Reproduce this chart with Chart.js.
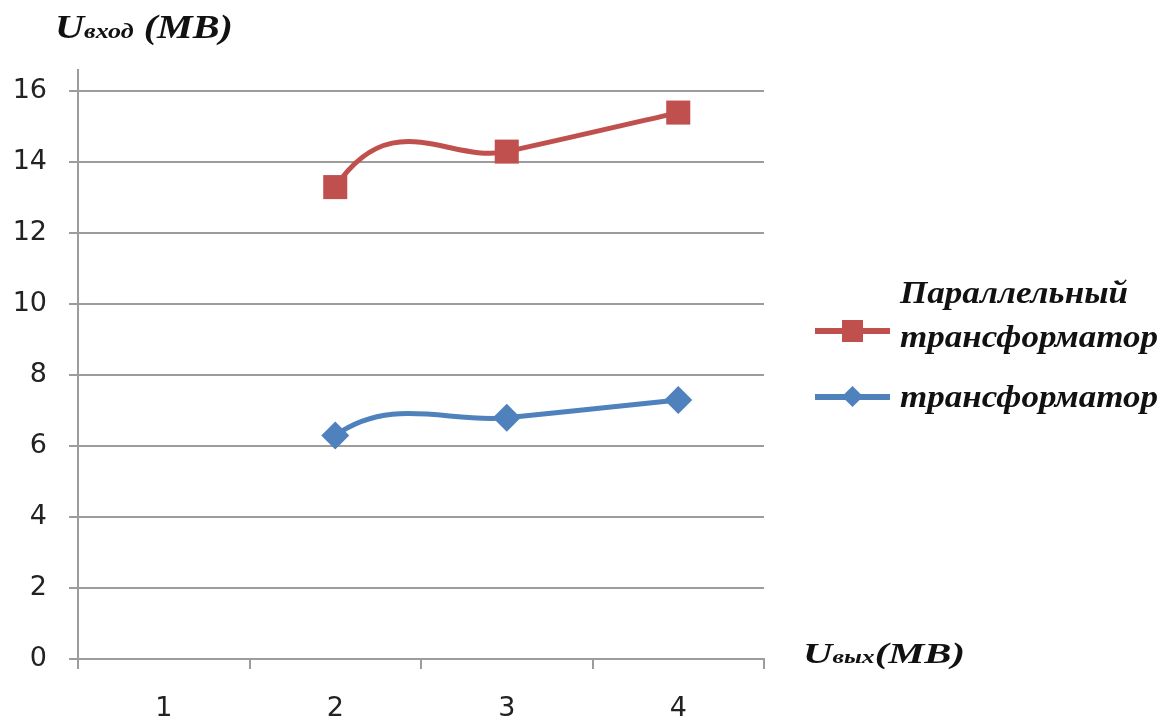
<!DOCTYPE html>
<html lang="ru">
<head>
<meta charset="utf-8">
<title>Uвход (МВ) / Uвых (МВ)</title>
<script src="https://cdn.jsdelivr.net/npm/chart.js@4.4.1/dist/chart.umd.min.js"></script>
<style>
  html, body { margin: 0; padding: 0; background: #fff; }
  #wrap { position: relative; width: 1171px; height: 722px; overflow: hidden; }
  #chart { position: absolute; left: 0; top: 0; }
  .lbl {
    position: absolute; white-space: nowrap; transform-origin: 0 0;
    font-family: "Liberation Serif", "DejaVu Serif", serif;
    font-weight: bold; font-style: italic; color: #111; line-height: 1;
  }
  .sym { position: absolute; }
</style>
</head>
<body>
<div id="wrap">
  <canvas id="chart" width="1171" height="722"></canvas>
</div>
<script>
// Output voltage steps (x categories) and input voltage for each circuit
const categories = ['1', '2', '3', '4'];
const parallelTransformer = [null, 13.3, 14.3, 15.4];
const transformer = [null, 6.3, 6.8, 7.3];
const seriesNames = [['Параллельный', 'трансформатор'], ['трансформатор']];
const yTickValues = [0, 2, 4, 6, 8, 10, 12, 14, 16];

const RED = '#C0504D';
const BLUE = '#4F81BD';
const GRID = '#9c9c9c';

// Smoothed line: Catmull-Rom style tangents (1/6 of neighbour chord); an empty
// neighbouring cell counts as zero when shaping the curve, as office charts do.
const smoothBlankAsZero = {
  id: 'smoothBlankAsZero',
  beforeDatasetDraw(chart, args) {
    const meta = args.meta;
    const pts = meta.data;
    const zeroY = chart.scales.y.getPixelForValue(0);
    const at = (i) => {
      if (i < 0 || i >= pts.length) return null;
      const p = pts[i];
      return p.skip ? { x: p.x, y: zeroY } : { x: p.x, y: p.y };
    };
    for (let i = 0; i < pts.length; i++) {
      const p = pts[i];
      if (p.skip) continue;
      const prev = at(i - 1) || p;
      const next = at(i + 1) || p;
      const tx = (next.x - prev.x) / 6;
      const ty = (next.y - prev.y) / 6;
      p.cp1x = p.x - tx; p.cp1y = p.y - ty;
      p.cp2x = p.x + tx; p.cp2y = p.y + ty;
    }
    meta.dataset._pointsUpdated = true;
  }
};

const yTop = yTickValues[yTickValues.length - 1];

const chart = new Chart(document.getElementById('chart'), {
  type: 'line',
  data: {
    labels: categories,
    datasets: [
      {
        label: seriesNames[0].join(' '),
        data: parallelTransformer,
        borderColor: RED, backgroundColor: RED,
        borderWidth: 5, tension: 0.4,
        pointStyle: 'rect', pointRadius: 17,
        pointBackgroundColor: RED, pointBorderColor: RED, pointBorderWidth: 0
      },
      {
        label: seriesNames[1].join(' '),
        data: transformer,
        borderColor: BLUE, backgroundColor: BLUE,
        borderWidth: 5, tension: 0.4,
        pointStyle: 'rectRot', pointRadius: 14,
        pointBackgroundColor: BLUE, pointBorderColor: BLUE, pointBorderWidth: 0
      }
    ]
  },
  options: {
    responsive: false,
    animation: false,
    events: [],
    devicePixelRatio: 1,
    layout: { padding: { left: 0, top: 70, right: 407, bottom: 0 } },
    plugins: {
      legend: { display: false },
      tooltip: { enabled: false },
      title: { display: false }
    },
    scales: {
      x: {
        type: 'category',
        offset: true,
        grid: { display: true, offset: true, drawOnChartArea: false, drawTicks: true,
                tickLength: 10, color: GRID, lineWidth: 2 },
        border: { display: true, color: GRID, width: 2 },
        ticks: { color: '#222', padding: 24, maxRotation: 0,
                 font: { family: 'DejaVu Sans', size: 27 } },
        afterFit(scale) { scale.height = 63; }
      },
      y: {
        min: yTickValues[0],
        // axis line runs a little above the top gridline
        max: yTop + 0.6,
        grid: { color: GRID, lineWidth: 2, tickLength: 9, drawTicks: true },
        border: { display: true, color: GRID, width: 2 },
        ticks: { color: '#222', padding: 22,
                 font: { family: 'DejaVu Sans', size: 27 } },
        afterBuildTicks(scale) {
          scale.ticks = yTickValues.map(v => ({ value: v }));
        },
        afterFit(scale) { scale.width = 78; }
      }
    }
  },
  plugins: [smoothBlankAsZero]
});

// Text labels: bold italic serif, widened horizontally to the given span
const wrap = document.getElementById('wrap');
function placeText(parts, x, baseline, width) {
  const div = document.createElement('div');
  div.className = 'lbl';
  div.style.left = x + 'px';
  div.style.top = '0px';
  parts.forEach(([txt, size]) => {
    const s = document.createElement('span');
    s.textContent = txt;
    s.style.fontSize = size + 'px';
    div.appendChild(s);
  });
  const mark = document.createElement('span');
  mark.style.display = 'inline-block';
  mark.style.width = '0';
  mark.style.height = '0';
  div.appendChild(mark);
  wrap.appendChild(div);
  const top0 = div.getBoundingClientRect().top;
  const base0 = mark.getBoundingClientRect().bottom;
  div.style.top = (baseline - (base0 - top0)) + 'px';
  const w = div.getBoundingClientRect().width;
  div.style.transform = 'scaleX(' + (width / w) + ')';
}

function placeBox(x, y, w, h, color, rot) {
  const d = document.createElement('div');
  d.className = 'sym';
  d.style.left = x + 'px'; d.style.top = y + 'px';
  d.style.width = w + 'px'; d.style.height = h + 'px';
  d.style.background = color;
  if (rot) d.style.transform = 'rotate(45deg)';
  wrap.appendChild(d);
}

// Axis titles
placeText([['U', 34], ['вход', 22], [' (МВ)', 34]], 55, 38, 178);
placeText([['U', 30], ['вых', 19], ['(МВ)', 30]], 803, 663, 162);

// Legend
placeBox(815, 328, 75, 6, RED);
placeBox(842, 320, 21, 22, RED);
placeText([[seriesNames[0][0], 31]], 900, 303, 228);
placeText([[seriesNames[0][1], 31]], 900, 347, 258);

placeBox(815, 394, 75, 6, BLUE);
placeBox(845, 389, 15, 15, BLUE, true);
placeText([[seriesNames[1][0], 31]], 900, 407, 258);
</script>
</body>
</html>
